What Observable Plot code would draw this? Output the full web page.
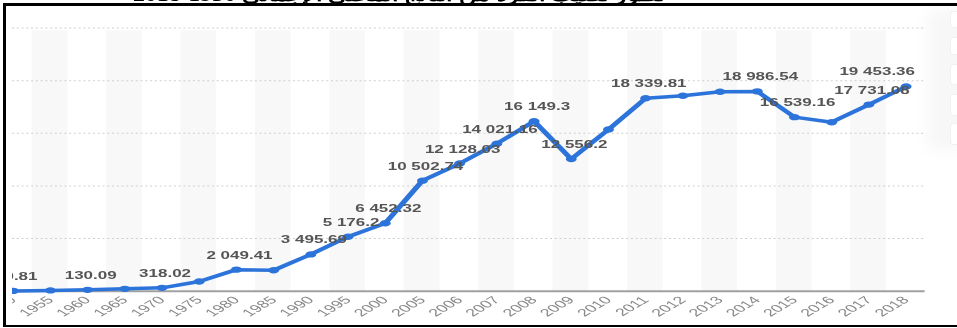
<!DOCTYPE html>
<html>
<head>
<meta charset="utf-8">
<script src="https://cdn.jsdelivr.net/npm/d3@7"></script>
<script src="https://cdn.jsdelivr.net/npm/@observablehq/plot@0.6"></script>
<style>
  html, body { margin: 0; padding: 0; background: #fff; }
  #page { position: relative; width: 957px; height: 328px; overflow: hidden; background: #fff; }
  #title { position: absolute; right: 292px; top: -14px; font: bold 18px "Liberation Serif", "DejaVu Serif", serif; color: #000; direction: rtl; white-space: nowrap; line-height: 18px; transform: scaleX(1.32); transform-origin: 100% 0; }
  #clip { position: absolute; left: 12px; top: 0; width: 945px; height: 328px; overflow: hidden; }
  #chart { position: absolute; left: -36px; top: 0; transform: scaleX(1.7); transform-origin: 0 0; }
  #frameTop { position: absolute; left: 3px; top: 3px; width: 960px; height: 3px; background: #000; }
  #frameLeft { position: absolute; left: 3px; top: 3px; width: 3px; height: 324px; background: #000; }
  #frameBottom { position: absolute; left: 3px; top: 325px; width: 960px; height: 2px; background: #000; }
  #halo { position: absolute; left: 928px; top: 10px; width: 40px; height: 140px; background: rgba(0,0,0,0.03); filter: blur(7px); }
  .btn { position: absolute; left: 950px; width: 16px; background: #fff; border: 1px solid #f1f1f1; border-radius: 3px; }
</style>
</head>
<body>
<div id="page">
  <div id="title">تطور نصيب الفرد من الناتج المحلي الإجمالي <bdi dir="ltr">2018-1950</bdi></div>
  <div id="clip"><div id="chart"></div></div>
  <div id="halo"></div>
  <div class="btn" style="top:11px;height:15px"></div>
  <div class="btn" style="top:37px;height:16px"></div>
  <div class="btn" style="top:64px;height:19px"></div>
  <div class="btn" style="top:94px;height:20px"></div>
  <div class="btn" style="top:123px;height:20px"></div>
  <div id="frameTop"></div>
  <div id="frameLeft"></div>
  <div id="frameBottom"></div>
</div>
<script>
const years = ["1950","1955","1960","1965","1970","1975","1980","1985","1990","1995","2000","2005","2006","2007","2008","2009","2010","2011","2012","2013","2014","2015","2016","2017","2018"];
const gdpPerCapita = [30.81, 76, 130.09, 225, 318.02, 920, 2049.41, 1990, 3495.69, 5176.2, 6452.32, 10502.74, 12128.03, 14021.16, 16149.3, 12556.2, 15370, 18339.81, 18570, 18950, 18986.54, 16539.16, 16060, 17731.08, 19453.36];
const labeledYears = ["1950","1960","1970","1980","1990","1995","2000","2005","2006","2007","2008","2009","2011","2014","2015","2017","2018"];
const gridTicks = [5000, 10000, 15000, 20000, 25000];

const data = years.map((year, i) => ({year, value: gdpPerCapita[i], i}));
const fmt = d3.formatLocale({decimal: ".", thousands: " ", grouping: [3], currency: ["", ""]}).format(",.2~f");
const blue = "#2d74da";
const lastYear = years[years.length - 1];
const labelData = data.filter(d => labeledYears.includes(d.year));
const labelStyle = {x: "year", y: "value", text: d => fmt(d.value), dy: -11, lineAnchor: "bottom", fontWeight: "bold", fontSize: 10, fill: "#555"};

const chart = Plot.plot({
  width: 568,
  height: 328,
  marginLeft: 10,
  marginRight: 10,
  marginTop: 27.6,
  marginBottom: 37.3,
  x: {type: "band", domain: years, padding: 0.04, round: false, label: null},
  y: {domain: [0, 25000], axis: null},
  style: {background: "transparent", fontFamily: "'Liberation Sans', Arial, sans-serif", overflow: "visible"},
  marks: [
    Plot.barY(data.filter(d => d.i % 2 === 1), {x: "year", y1: 0, y2: 24750, fill: "#f8f8f8"}),
    Plot.ruleY(gridTicks, {stroke: "#cfcfcf", strokeDasharray: "1.2,1.6"}),
    Plot.ruleY([0], {stroke: "#a0a0a0", strokeWidth: 2}),
    Plot.axisX({tickSize: 0, tickRotate: -45, tickPadding: 7, fontSize: 10.5, fill: "#888", label: null}),
    Plot.line(data, {x: "year", y: "value", stroke: blue, strokeWidth: 3.5}),
    Plot.dot(data, {x: "year", y: "value", r: 3.2, fill: blue}),
    Plot.text(labelData.filter(d => d.year !== lastYear), {...labelStyle, dx: 1.8}),
    Plot.text(labelData.filter(d => d.year === lastYear), {...labelStyle, dx: -17})
  ]
});
document.getElementById("chart").appendChild(chart);
</script>
</body>
</html>
